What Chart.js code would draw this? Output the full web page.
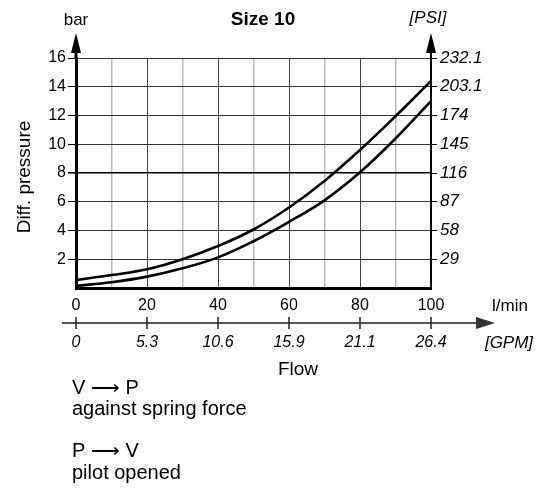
<!DOCTYPE html>
<html>
<head>
<meta charset="utf-8">
<script src="https://cdn.jsdelivr.net/npm/chart.js@4"></script>
<style>
  html, body { margin: 0; padding: 0; background: #fff; }
  #wrap { width: 544px; height: 491px; position: relative; }
</style>
</head>
<body>
<div id="wrap"><canvas id="flowChart"></canvas></div>
<script>
  // values (bar over l/min)
  const flow = [0, 10, 20, 30, 40, 50, 60, 70, 80, 90, 100];
  const springForce = [0.55, 0.9, 1.3, 2.0, 2.92, 4.07, 5.6, 7.45, 9.6, 11.95, 14.4];
  const pilotOpened = [0.15, 0.4, 0.79, 1.37, 2.13, 3.25, 4.6, 6.1, 8.05, 10.4, 13.0];

  // tick labels
  const psiTicks = ['29', '58', '87', '116', '145', '174', '203.1', '232.1'];
  const lminTicks = [0, 20, 40, 60, 80, 100];
  const gpmTicks = ['0', '5.3', '10.6', '15.9', '21.1', '26.4'];

  const FONT = "'Liberation Sans', Arial, sans-serif";

  function toPoints(ys) {
    return flow.map((x, i) => ({ x: x, y: ys[i] }));
  }

  function arrowUp(ctx, x, tipY, baseY, half) {
    ctx.beginPath();
    ctx.moveTo(x, tipY);
    ctx.lineTo(x - half, baseY);
    ctx.lineTo(x + half, baseY);
    ctx.closePath();
    ctx.fill();
  }

  // titles, arrows, GPM axis and the notes under the chart
  const extras = {
    id: 'extras',
    afterDraw(chart) {
      const ctx = chart.ctx;
      const a = chart.chartArea;
      const xs = chart.scales.x;
      ctx.save();
      ctx.fillStyle = '#000';
      ctx.strokeStyle = '#000';

      // axis arrows
      ctx.lineWidth = 3;
      ctx.beginPath();
      ctx.moveTo(a.left, a.top);
      ctx.lineTo(a.left, 50);
      ctx.stroke();
      ctx.lineWidth = 2;
      ctx.beginPath();
      ctx.moveTo(a.right, a.top);
      ctx.lineTo(a.right, 50);
      ctx.stroke();
      arrowUp(ctx, a.left, 33, 53, 5);
      arrowUp(ctx, a.right, 33, 53, 5);

      ctx.textAlign = 'center';
      ctx.textBaseline = 'middle';
      ctx.font = 'bold 19px ' + FONT;
      ctx.fillText('Size 10', 263, 20);
      ctx.font = '17px ' + FONT;
      ctx.fillText('bar', 76, 20);
      ctx.font = 'italic 17px ' + FONT;
      ctx.fillText('[PSI]', 428, 18);

      // y title
      ctx.save();
      ctx.translate(25, 177);
      ctx.rotate(-Math.PI / 2);
      ctx.font = '19px ' + FONT;
      ctx.fillText('Diff. pressure', 0, 0);
      ctx.restore();

      // second flow axis in GPM
      const axY = 323;
      ctx.strokeStyle = '#555';
      ctx.fillStyle = '#333';
      ctx.lineWidth = 2;
      ctx.beginPath();
      ctx.moveTo(62, axY);
      ctx.lineTo(478, axY);
      ctx.stroke();
      ctx.beginPath();
      ctx.moveTo(495, axY);
      ctx.lineTo(476, axY - 6);
      ctx.lineTo(476, axY + 6);
      ctx.closePath();
      ctx.fill();
      ctx.strokeStyle = '#222';
      ctx.lineWidth = 1.5;
      ctx.fillStyle = '#000';
      ctx.font = 'italic 16px ' + FONT;
      lminTicks.forEach((v, i) => {
        const px = xs.getPixelForValue(v);
        ctx.beginPath();
        ctx.moveTo(px, axY - 6);
        ctx.lineTo(px, axY + 6);
        ctx.stroke();
        ctx.fillText(gpmTicks[i], px, 343);
      });
      ctx.font = '17px ' + FONT;
      ctx.fillText('l/min', 510, 306);
      ctx.font = 'italic 17px ' + FONT;
      ctx.fillText('[GPM]', 509, 343);
      ctx.font = '19px ' + FONT;
      ctx.fillText('Flow', 298, 370);

      // notes
      ctx.textAlign = 'left';
      ctx.font = '20px ' + FONT;
      ctx.fillText('V \u27F6 P', 72, 388);
      ctx.fillText('against spring force', 72, 409);
      ctx.fillText('P \u27F6 V', 72, 451);
      ctx.fillText('pilot opened', 72, 473);
      ctx.restore();
    }
  };

  const lineStyle = {
    borderColor: '#000',
    borderWidth: 2.6,
    pointRadius: 0,
    fill: false,
    tension: 0.4
  };

  new Chart(document.getElementById('flowChart'), {
    type: 'line',
    data: {
      datasets: [
        Object.assign({ label: 'V -> P against spring force', data: toPoints(springForce) }, lineStyle),
        Object.assign({ label: 'P -> V pilot opened', data: toPoints(pilotOpened) }, lineStyle)
      ]
    },
    options: {
      responsive: true,
      maintainAspectRatio: false,
      animation: false,
      layout: { padding: { top: 58, left: 0, right: 0, bottom: 0 } },
      plugins: {
        legend: { display: false },
        tooltip: { enabled: false }
      },
      scales: {
        x: {
          type: 'linear',
          min: 0,
          max: 100,
          afterFit(s) { s.height = 203; },
          ticks: {
            stepSize: 10,
            autoSkip: false,
            maxRotation: 0,
            padding: 8,
            color: '#000',
            font: { family: FONT, size: 16 },
            callback: v => (v % 20 === 0 ? v : '')
          },
          grid: {
            drawTicks: false,
            color: c => (c.tick && c.tick.value % 20 === 0 ? '#444' : '#bbb'),
            lineWidth: c => (c.tick && c.tick.value % 20 === 0 ? 1 : 1.5)
          },
          border: { display: true, color: '#000', width: 3 }
        },
        y: {
          position: 'left',
          min: 0,
          max: 16,
          afterFit(s) { s.width = 76; },
          ticks: {
            stepSize: 2,
            padding: 2,
            color: '#000',
            font: { family: FONT, size: 16 },
            callback: v => (v === 0 ? '' : v)
          },
          grid: {
            tickLength: 8,
            tickColor: c => (c.tick && c.tick.value === 0 ? 'rgba(0,0,0,0)' : '#000'),
            color: c => (c.tick && c.tick.value === 8 ? '#000' : '#333'),
            lineWidth: c => (c.tick && c.tick.value === 8 ? 1.6 : 1)
          },
          border: { display: true, color: '#000', width: 3 }
        },
        y2: {
          position: 'right',
          min: 0,
          max: 16,
          afterFit(s) { s.width = 113; },
          ticks: {
            stepSize: 2,
            padding: 3,
            color: '#000',
            font: { family: FONT, size: 17, style: 'italic' },
            callback: v => (v === 0 ? '' : psiTicks[v / 2 - 1])
          },
          grid: {
            drawOnChartArea: false,
            tickLength: 6,
            tickColor: c => (c.tick && c.tick.value === 0 ? 'rgba(0,0,0,0)' : '#000')
          },
          border: { display: true, color: '#000', width: 2 }
        }
      }
    },
    plugins: [extras]
  });
</script>
</body>
</html>
